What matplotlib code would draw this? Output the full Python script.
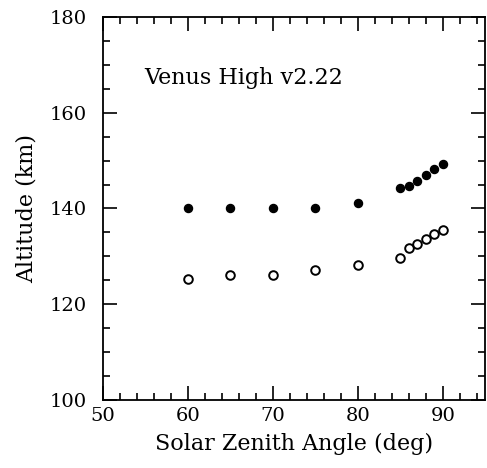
import matplotlib
matplotlib.use("Agg")
import matplotlib.pyplot as plt
from matplotlib.ticker import MultipleLocator

sza = [60, 65, 70, 75, 80, 85, 86, 87, 88, 89, 90]
alt_filled = [140.2, 140.1, 140.1, 140.1, 141.2, 144.2, 144.7, 145.8, 147.1, 148.2, 149.3]
alt_open = [125.2, 126.1, 126.1, 127.2, 128.2, 129.6, 131.7, 132.6, 133.6, 134.6, 135.6]

plt.rcParams['font.family'] = ['DejaVu Serif']
fig = plt.figure(figsize=(4.87, 4.68), dpi=100)
ax = fig.add_axes([103/487, 1-400/468, (485.5-103)/487, (400-17)/468])

ax.plot(sza, alt_filled, 'o', color='black', markersize=5.8, linestyle='none')
ax.plot(sza, alt_open, 'o', markerfacecolor='white', markeredgecolor='black',
        markeredgewidth=1.4, markersize=6.2, linestyle='none')

ax.set_xlim(50, 95)
ax.set_ylim(100, 180)
ax.xaxis.set_major_locator(MultipleLocator(10))
ax.xaxis.set_minor_locator(MultipleLocator(2))
ax.yaxis.set_major_locator(MultipleLocator(20))
ax.yaxis.set_minor_locator(MultipleLocator(5))
ax.tick_params(which='both', direction='in', top=True, right=True, labelsize=14, width=1.2)
ax.tick_params(which='major', length=10)
ax.tick_params(axis='y', which='major', pad=12)
ax.tick_params(axis='x', which='major', pad=5)
ax.tick_params(which='minor', length=5)
for s in ax.spines.values():
    s.set_linewidth(1.3)

ax.set_xlabel('Solar Zenith Angle (deg)', fontsize=16, labelpad=6)
ax.set_ylabel('Altitude (km)', fontsize=16, labelpad=8)
ax.text(54.9, 167.3, 'Venus High v2.22', fontsize=16, va='center', ha='left')

fig.savefig('out.png', dpi=100)
